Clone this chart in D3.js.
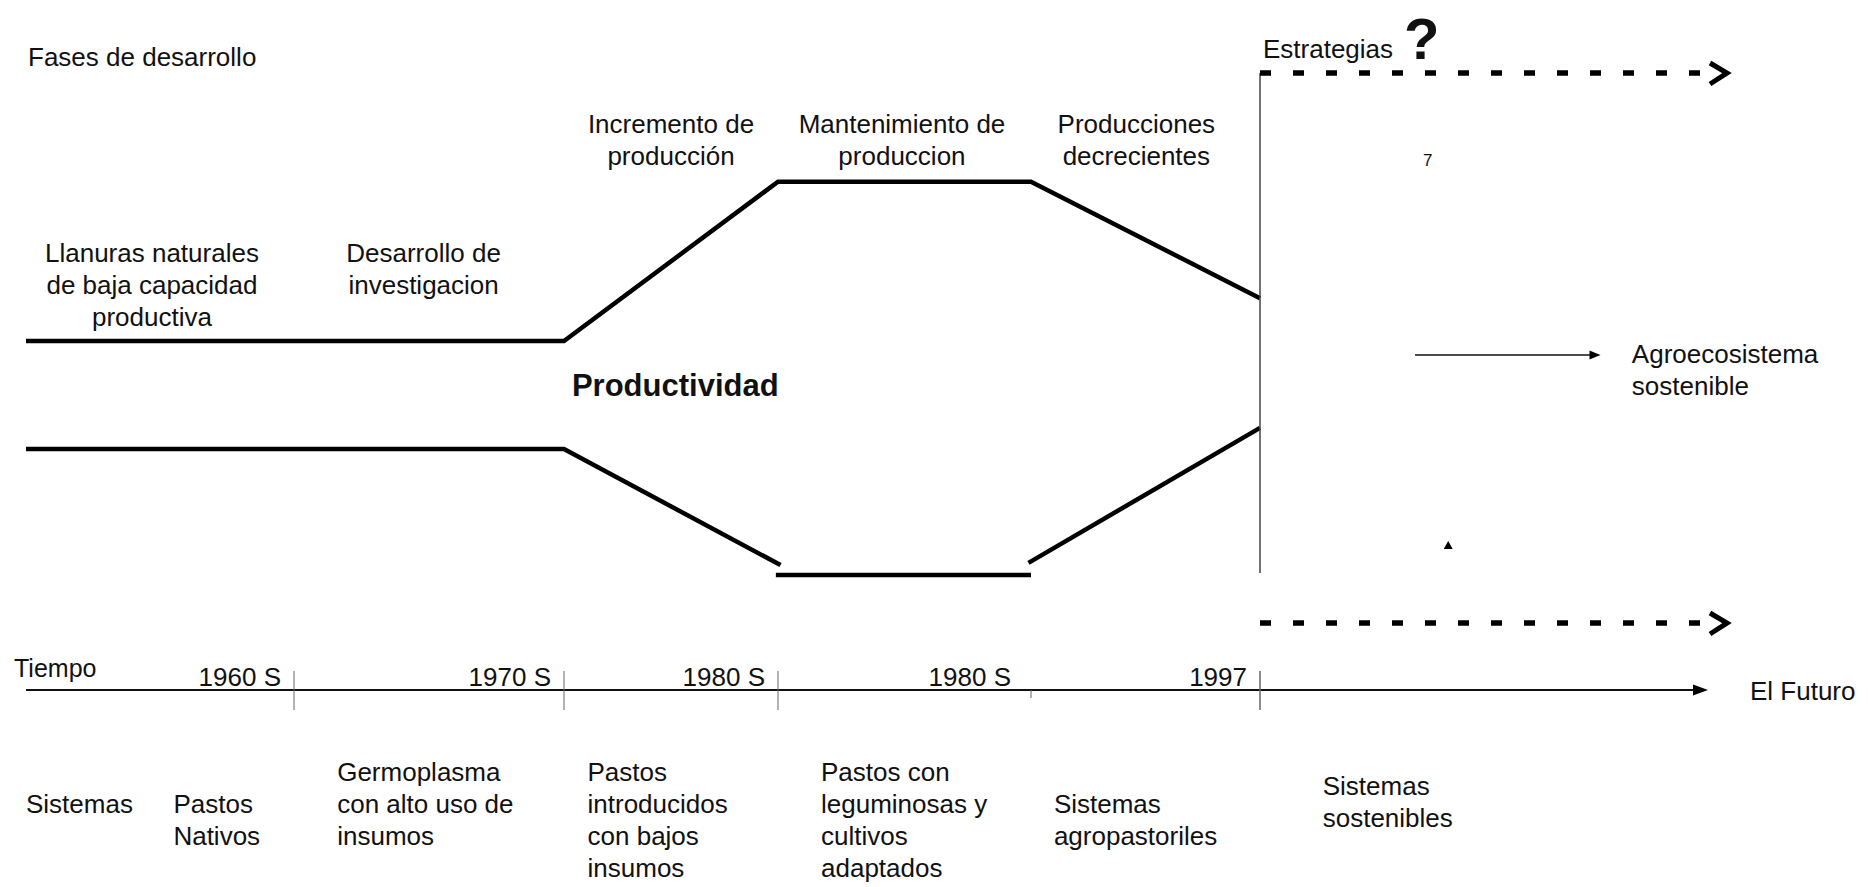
<!DOCTYPE html>
<html>
<head>
<meta charset="utf-8">
<script src="https://cdn.jsdelivr.net/npm/d3@7"></script>
<style>
body { margin: 0; background: #fff; }
svg text { font-family: "Liberation Sans", Arial, sans-serif; fill: #111; }
</style>
</head>
<body>
<div id="chart"></div>
<script>
// time axis: period boundaries (index units) and their labels
var periods = [0, 1, 2, 3, 4, 5, 6];
var tickAt = [1, 2, 3, 4, 5];
var tickLabels = ["1960 S", "1970 S", "1980 S", "1980 S", "1997"];

// development phases, centred over each period
var phases = [
  ["Llanuras naturales", "de baja capacidad", "productiva"],
  ["Desarrollo de", "investigacion"],
  ["Incremento de", "producción"],
  ["Mantenimiento de", "produccion"],
  ["Producciones", "decrecientes"]
];
var phaseAt = [0.47, 1.48, 2.5, 3.49, 4.46];

// production systems under the time axis
var systems = [
  ["Sistemas"],
  ["Pastos", "Nativos"],
  ["Germoplasma", "con alto uso de", "insumos"],
  ["Pastos", "introducidos", "con bajos", "insumos"],
  ["Pastos con", "leguminosas y", "cultivos", "adaptados"],
  ["Sistemas", "agropastoriles"],
  ["Sistemas", "sostenibles"]
];
var systemAt = [0, 0.55, 1.16, 2.11, 3.17, 4.1, 5.14];

// productivity envelope (upper and lower lines)
var upper = [[0, 6.2], [2, 6.2], [3, 9.74], [4, 9.74], [5, 7.15]];
var lower = [
  [[0, 3.8], [2, 3.8], [3.01, 1.22]],
  [[2.99, 1.0], [4, 1.0]],
  [[3.99, 1.27], [5, 4.27]]
];

var width = 1868, height = 887;
var svg = d3.select("#chart").append("svg")
  .attr("width", width)
  .attr("height", height);

var x = d3.scaleLinear().domain(periods).range([26, 294, 564, 778, 1031, 1260, 1708]);
var y = d3.scaleLinear().domain([0, 10]).range([620, 170]);
var fs = 26, lh = 32;

var line = d3.line().x(function (d) { return x(d[0]); }).y(function (d) { return y(d[1]); });

// curves
svg.append("path")
  .attr("d", line(upper))
  .attr("fill", "none").attr("stroke", "#000").attr("stroke-width", 4.5)
  .attr("stroke-linejoin", "miter");
svg.selectAll(".low").data(lower).enter().append("path")
  .attr("class", "low")
  .attr("d", line)
  .attr("fill", "none").attr("stroke", "#000").attr("stroke-width", 4.5);

// headers
svg.append("text").attr("x", 28).attr("y", 66).attr("font-size", fs).text("Fases de desarrollo");
svg.append("text").attr("x", 14).attr("y", 677).attr("font-size", fs - 1).text("Tiempo");

svg.append("text")
  .attr("x", x(2.52)).attr("y", 396)
  .attr("text-anchor", "middle")
  .attr("font-size", 31).attr("font-weight", "bold")
  .text("Productividad");

// phase labels
var phaseTop = [262, 262, 133, 133, 133];
phases.forEach(function (lines, i) {
  var t = svg.append("text")
    .attr("text-anchor", "middle")
    .attr("font-size", fs);
  lines.forEach(function (s, j) {
    t.append("tspan").attr("x", x(phaseAt[i])).attr("y", phaseTop[i] + j * lh).text(s);
  });
});

// strategy area
var x5 = x(5);
svg.append("line")
  .attr("x1", x5).attr("x2", x5).attr("y1", 73).attr("y2", 573)
  .attr("stroke", "#444").attr("stroke-width", 1.5);

svg.append("text").attr("x", x5 + 3).attr("y", 58).attr("font-size", fs).text("Estrategias");
svg.append("text").attr("x", x5 + 144).attr("y", 59)
  .attr("font-size", 58).attr("font-weight", "bold").text("?");

[73, 623].forEach(function (yy) {
  svg.append("line")
    .attr("x1", x5).attr("x2", x(6) - 2).attr("y1", yy).attr("y2", yy)
    .attr("stroke", "#000").attr("stroke-width", 5.5)
    .attr("stroke-dasharray", "11,22");
  svg.append("polyline")
    .attr("points", [[x(6) + 2, yy - 10], [x(6) + 19, yy], [x(6) + 2, yy + 11]].join(" "))
    .attr("fill", "none").attr("stroke", "#000").attr("stroke-width", 5);
});

// agroecosistema arrow
var ay = y(5.89);
svg.append("line")
  .attr("x1", x(5.346)).attr("x2", x(5.76) - 8).attr("y1", ay).attr("y2", ay)
  .attr("stroke", "#111").attr("stroke-width", 1.5);
svg.append("path")
  .attr("d", "M" + x(5.76) + "," + ay + "l-11,-4.5v9z")
  .attr("fill", "#000");
var ag = svg.append("text").attr("font-size", fs);
["Agroecosistema", "sostenible"].forEach(function (s, j) {
  ag.append("tspan").attr("x", x(5.83)).attr("y", ay + 8 + j * lh).text(s);
});

// stray marks
svg.append("text").attr("x", x(5.364)).attr("y", 166).attr("font-size", 17).text("7");
svg.append("path")
  .attr("d", "M" + x(5.42) + "," + 541 + "l4.5,8h-9z")
  .attr("fill", "#000");

// time axis
var ty = 690;
svg.append("line")
  .attr("x1", x(0)).attr("x2", x(6) - 12).attr("y1", ty).attr("y2", ty)
  .attr("stroke", "#111").attr("stroke-width", 2);
svg.append("path")
  .attr("d", "M" + x(6) + "," + ty + "l-15,-5.5v11z")
  .attr("fill", "#000");

svg.selectAll(".tick").data(tickAt).enter().append("line")
  .attr("class", "tick")
  .attr("x1", function (d) { return x(d); })
  .attr("x2", function (d) { return x(d); })
  .attr("y1", function (d, i) { return i === 3 ? ty : 671; })
  .attr("y2", function (d, i) { return i === 3 ? ty + 8 : 710; })
  .attr("stroke", "#666").attr("stroke-width", function (d, i) { return i === 4 ? 1.5 : 1; });

svg.selectAll(".tlab").data(tickAt).enter().append("text")
  .attr("class", "tlab")
  .attr("x", function (d, i) { return x(d) - (i === 3 ? 20 : 13); })
  .attr("y", 686)
  .attr("text-anchor", "end")
  .attr("font-size", fs)
  .text(function (d, i) { return tickLabels[i]; });

svg.append("text").attr("x", x(6) + 42).attr("y", 700).attr("font-size", fs).text("El Futuro");

// systems row
var sysTop = [813, 813, 781, 781, 781, 813, 795];
systems.forEach(function (lines, i) {
  var t = svg.append("text").attr("font-size", fs);
  lines.forEach(function (s, j) {
    t.append("tspan").attr("x", x(systemAt[i])).attr("y", sysTop[i] + j * lh).text(s);
  });
});
</script>
</body>
</html>
